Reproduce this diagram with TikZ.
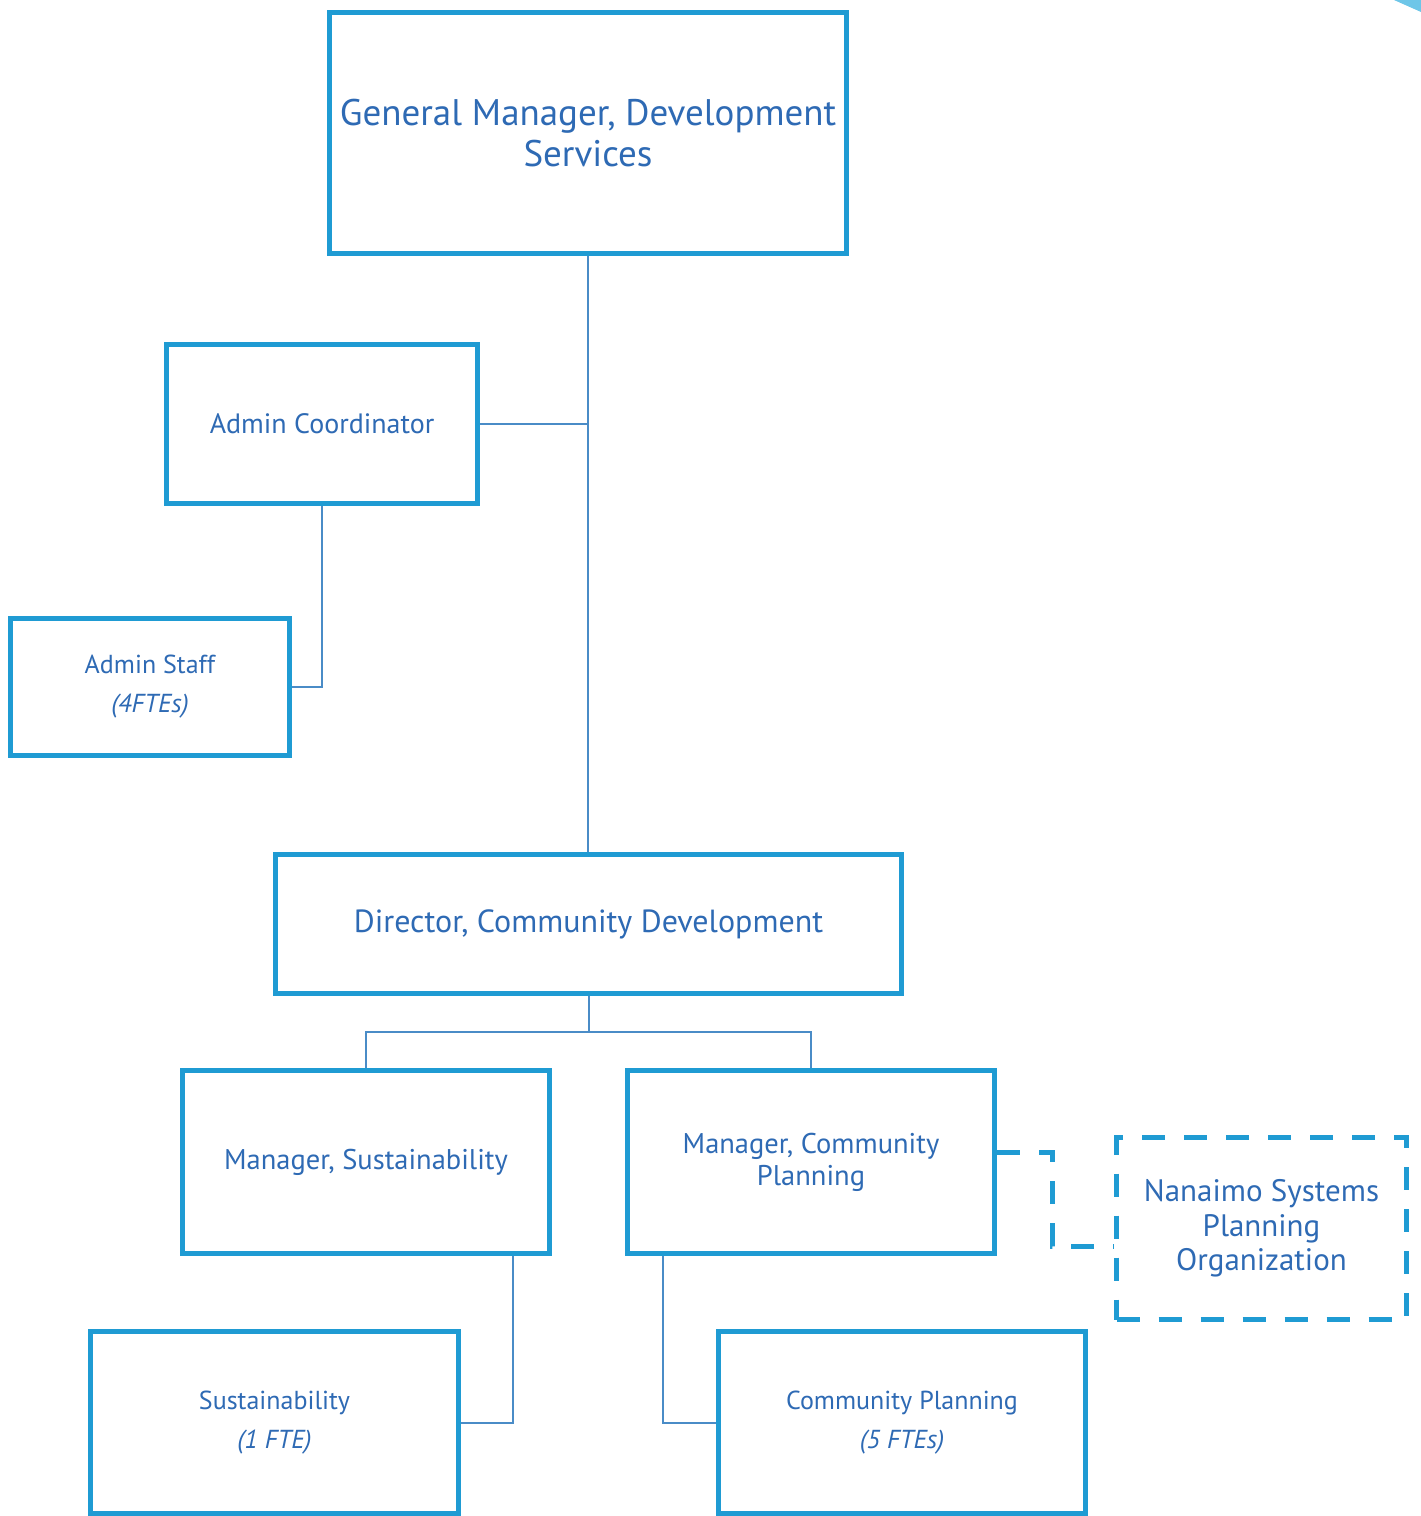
\documentclass[tikz,border=0pt]{standalone}
\usepackage{fontspec}
\setmainfont{PT Sans}
\usetikzlibrary{calc}
\definecolor{boxblue}{HTML}{1F9BD3}
\definecolor{txtblue}{HTML}{2E6AB4}
\definecolor{lineblue}{HTML}{4A8CC7}
\definecolor{cornerblue}{HTML}{6EC6E8}
\begin{document}
\begin{tikzpicture}[x=1pt,y=-1pt,
  box/.style={draw=boxblue,line width=5pt,fill=white,align=center,text=txtblue,inner sep=0pt},
  dbox/.style={box,dash pattern=on 23pt off 19pt},
  conn/.style={draw=lineblue,line width=2pt},
  dconn/.style={draw=boxblue,line width=5pt,dash pattern=on 23pt off 19pt},
  big/.style={font=\fontsize{37}{41}\selectfont},
  dirf/.style={font=\fontsize{32}{36}\selectfont},
  nanf/.style={font=\fontsize{31}{34.5}\selectfont},
  med/.style={font=\fontsize{28.5}{32}\selectfont},
  acf/.style={font=\fontsize{28}{32}\selectfont},
  sml/.style={font=\fontsize{26}{39}\selectfont}]
\useasboundingbox (0,0) rectangle (1421,1516);
\fill[cornerblue] (1394,0) -- (1421,0) -- (1421,12) -- cycle;
\node[box,big,minimum width=517pt,minimum height=241pt] (gm) at (588,133) {General Manager, Development\\Services};
\node[box,acf,minimum width=311pt,minimum height=159pt] (ac) at (322,424) {Admin Coordinator};
\node[box,sml,minimum width=279pt,minimum height=137pt] (as) at (150,687) {Admin Staff\\\textit{(4FTEs)}};
\node[box,dirf,minimum width=626pt,minimum height=139pt] (dir) at (588.5,924) {Director, Community Development};
\node[box,med,minimum width=367pt,minimum height=183pt] (ms) at (366,1162) {Manager, Sustainability};
\node[box,med,minimum width=367pt,minimum height=183pt] (mcp) at (811,1162) {Manager, Community\\Planning};
\node[dbox,nanf,minimum width=290pt,minimum height=182pt] (nan) at (1261.5,1228.5) {Nanaimo Systems\\Planning\\Organization};
\node[box,sml,minimum width=368pt,minimum height=182pt] (sus) at (274.5,1422.5) {Sustainability\\\textit{(1 FTE)}};
\node[box,sml,minimum width=367pt,minimum height=182pt] (cp) at (902,1422.5) {Community Planning\\\textit{(5 FTEs)}};
\coordinate (dj) at (1052,1246);
\draw[conn] (gm.south) -- (gm.south |- dir.north);
\draw[conn] (ac.east) -- (ac.east -| gm.south);
\draw[conn] (ac.south) |- (as.east);
\draw[conn] (dir.south) -- ++(0,36) -| (ms.north);
\draw[conn] (dir.south) -- ++(0,36) -| (mcp.north);
\draw[conn] ([xshift=147pt]ms.south) |- (sus.east);
\draw[conn] ([xshift=-148pt]mcp.south) |- (cp.west);
\draw[dconn] ([yshift=10pt]mcp.east) -| (dj) -- (dj -| nan.west);
\end{tikzpicture}
\end{document}
